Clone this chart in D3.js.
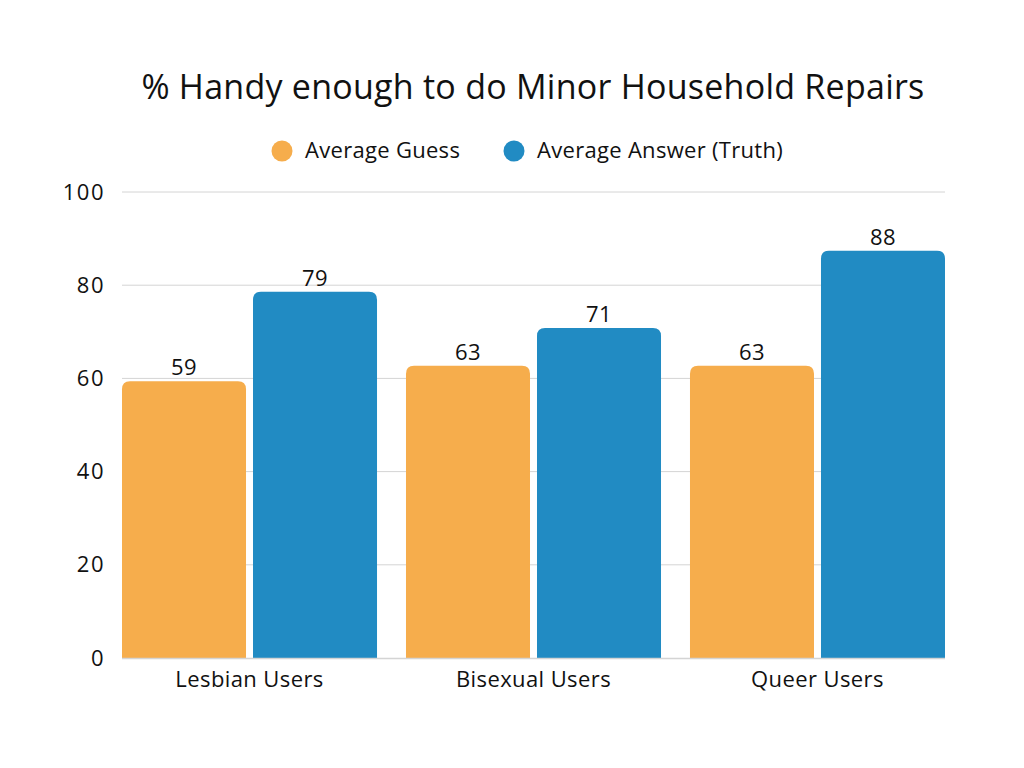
<!DOCTYPE html>
<html>
<head>
<meta charset="utf-8">
<script src="https://cdn.jsdelivr.net/npm/d3@7"></script>
<style>
  html, body { margin: 0; padding: 0; background: #ffffff; }
  svg { display: block; }
  text { font-family: "Open Sans", "Noto Sans", sans-serif; fill: #111; }
</style>
</head>
<body>
<svg id="chart" width="1024" height="768"></svg>
<script>
const title = "% Handy enough to do Minor Household Repairs";
const categories = ["Lesbian Users", "Bisexual Users", "Queer Users"];
const seriesNames = ["Average Guess", "Average Answer (Truth)"];
const seriesColors = ["#F6AD4C", "#218BC3"];
const guessValues = [59.4, 62.7, 62.7];
const truthValues = [78.6, 70.8, 87.4];
const valueLabels = [["59", "79"], ["63", "71"], ["63", "88"]];
const yTicks = [0, 20, 40, 60, 80, 100];

const svg = d3.select("#chart");
const plotLeft = 122, plotRight = 945, plotTop = 192, plotBottom = 658;
const FONT = '"Open Sans", "Noto Sans", sans-serif';

const x0 = d3.scaleBand().domain(categories).range([plotLeft, plotRight]).paddingInner(0.102).paddingOuter(0);
const x1 = d3.scaleBand().domain([0, 1]).range([0, x0.bandwidth()]).paddingInner(0.0534).paddingOuter(0);
const y = d3.scaleLinear().domain([0, 100]).range([plotBottom, plotTop]);

// Title
svg.append("text").attr("x", 533).attr("y", 99).attr("text-anchor", "middle")
  .style("font-size", "34px").style("letter-spacing", "0.25px").text(title);

// Legend
const legendItems = [{x: 282, tx: 305}, {x: 514, tx: 537}];
seriesNames.forEach((s, i) => {
  svg.append("circle").attr("cx", legendItems[i].x).attr("cy", 151).attr("r", 10.5).attr("fill", seriesColors[i]);
  svg.append("text").attr("x", legendItems[i].tx).attr("y", 158).style("font-size", "22px")
    .style("letter-spacing", "0.3px").text(s);
});

// Gridlines
svg.append("g").selectAll("line").data(yTicks.filter(d => d > 0)).join("line")
  .attr("x1", plotLeft).attr("x2", plotRight)
  .attr("y1", d => y(d)).attr("y2", d => y(d))
  .attr("stroke", "#d4d4d4").attr("stroke-width", 1);

// Y axis labels
const yAxis = d3.axisLeft(y).tickValues(yTicks).tickSize(0).tickPadding(17);
const yg = svg.append("g").attr("transform", `translate(${plotLeft},0)`).call(yAxis);
yg.select(".domain").remove();
yg.selectAll("text").style("font-size", "22px").style("fill", "#111").style("font-family", FONT)
  .style("letter-spacing", "1.5px");

// Bars
function topRoundedRect(x, y0, w, h, r) {
  r = Math.min(r, h, w / 2);
  return `M${x},${y0 + h}V${y0 + r}Q${x},${y0} ${x + r},${y0}H${x + w - r}Q${x + w},${y0} ${x + w},${y0 + r}V${y0 + h}Z`;
}
const data = categories.map((c, i) => ({cat: c, vals: [guessValues[i], truthValues[i]], labels: valueLabels[i]}));
const groups = svg.append("g").selectAll("g").data(data).join("g")
  .attr("transform", d => `translate(${x0(d.cat)},0)`);
groups.selectAll("path").data(d => d.vals.map((v, k) => ({v, k}))).join("path")
  .attr("d", d => topRoundedRect(x1(d.k), y(d.v), x1.bandwidth(), plotBottom - y(d.v), 8))
  .attr("fill", d => seriesColors[d.k]);
groups.selectAll("text.val").data(d => d.vals.map((v, k) => ({v, k, label: d.labels[k]}))).join("text")
  .attr("class", "val")
  .attr("x", d => x1(d.k) + x1.bandwidth() / 2)
  .attr("y", d => y(d.v) - 6)
  .attr("text-anchor", "middle").style("font-size", "22px").style("letter-spacing", "0.5px").text(d => d.label);

// Baseline
svg.append("line").attr("x1", plotLeft).attr("x2", plotRight).attr("y1", plotBottom + 0.5).attr("y2", plotBottom + 0.5)
  .attr("stroke", "#d4d4d4").attr("stroke-width", 1.5);

// X axis labels
const xAxis = d3.axisBottom(x0).tickSize(0).tickPadding(13);
const xg = svg.append("g").attr("transform", `translate(0,${plotBottom})`).call(xAxis);
xg.select(".domain").remove();
xg.selectAll("text").style("font-size", "22px").style("fill", "#111").style("font-family", FONT)
  .style("letter-spacing", "0.4px");
</script>
</body>
</html>
